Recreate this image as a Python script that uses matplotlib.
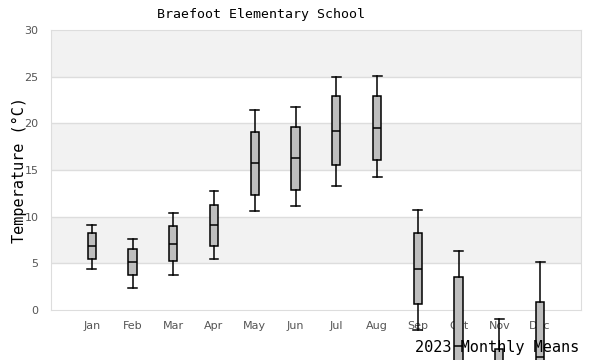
import matplotlib.pyplot as plt

months = ['Jan', 'Feb', 'Mar', 'Apr', 'May', 'Jun',
          'Jul', 'Aug', 'Sep', 'Oct', 'Nov', 'Dec']
whislo = [4.4, 2.4, 3.7, 5.5, 10.6, 11.1, 13.25, 14.2, -2.1, -14.0, -13.0, -12.0]
q1     = [5.5, 3.7, 5.2, 6.9, 12.3, 12.9, 15.5, 16.1, 0.6, -11.0, -10.0, -9.0]
med    = [6.8, 5.1, 7.1, 9.1, 15.7, 16.25, 19.2, 19.5, 4.4, -3.9, -7.0, -5.0]
q3     = [8.2, 6.5, 9.0, 11.2, 19.1, 19.6, 22.9, 22.9, 8.2, 3.5, -4.2, 0.8]
whishi = [9.1, 7.6, 10.4, 12.75, 21.4, 21.7, 25.0, 25.1, 10.7, 6.3, -1.0, 5.1]

mono = 'DejaVu Sans Mono'

fig = plt.figure(figsize=(6, 3.6), dpi=100)
ax = fig.add_axes([0.085, 0.139, 0.883, 0.778])

# alternating bands
for lo in [5, 15, 25]:
    ax.axhspan(lo, lo + 5, color='#f2f2f2', zorder=0, lw=0)
for y in range(5, 30, 5):
    ax.axhline(y, color='#dddddd', lw=1, zorder=0.5)

stats = []
for i, m in enumerate(months):
    stats.append(dict(label=m, whislo=whislo[i], q1=q1[i], med=med[i],
                      q3=q3[i], whishi=whishi[i], fliers=[]))

bp = ax.bxp(stats, positions=range(1, 13), widths=0.2, capwidths=0.22,
            patch_artist=True, showfliers=False,
            boxprops=dict(facecolor='#bebebe', edgecolor='black', lw=1.1),
            medianprops=dict(color='black', lw=1.1),
            whiskerprops=dict(color='black', lw=1.1),
            capprops=dict(color='black', lw=1.1))
for key in ['boxes', 'medians', 'whiskers', 'caps']:
    for a in bp[key]:
        a.set_clip_on(False)
        a.set_zorder(3)

ax.set_xlim(0, 13)
ax.set_ylim(0, 30)
ax.set_yticks(range(0, 31, 5))
ax.set_xticks(range(1, 13))
ax.set_xticklabels(months)
ax.tick_params(length=0, labelsize=8, colors='#555555')
ax.tick_params(axis='x', pad=8)
ax.tick_params(axis='y', pad=9)
for s in ax.spines.values():
    s.set_color('#dddddd')

fig.text(0.435, 0.96, 'Braefoot Elementary School', fontfamily=mono,
         fontsize=9.5, ha='center', va='center')
ax.set_ylabel('Temperature (°C)', fontfamily=mono, fontsize=11)
ax.yaxis.set_label_coords(-0.046, 0.5)
fig.text(0.965, 0.036, '2023 Monthly Means', fontfamily=mono, fontsize=11,
         ha='right', va='center', zorder=5)

fig.savefig('out.png', dpi=100)
